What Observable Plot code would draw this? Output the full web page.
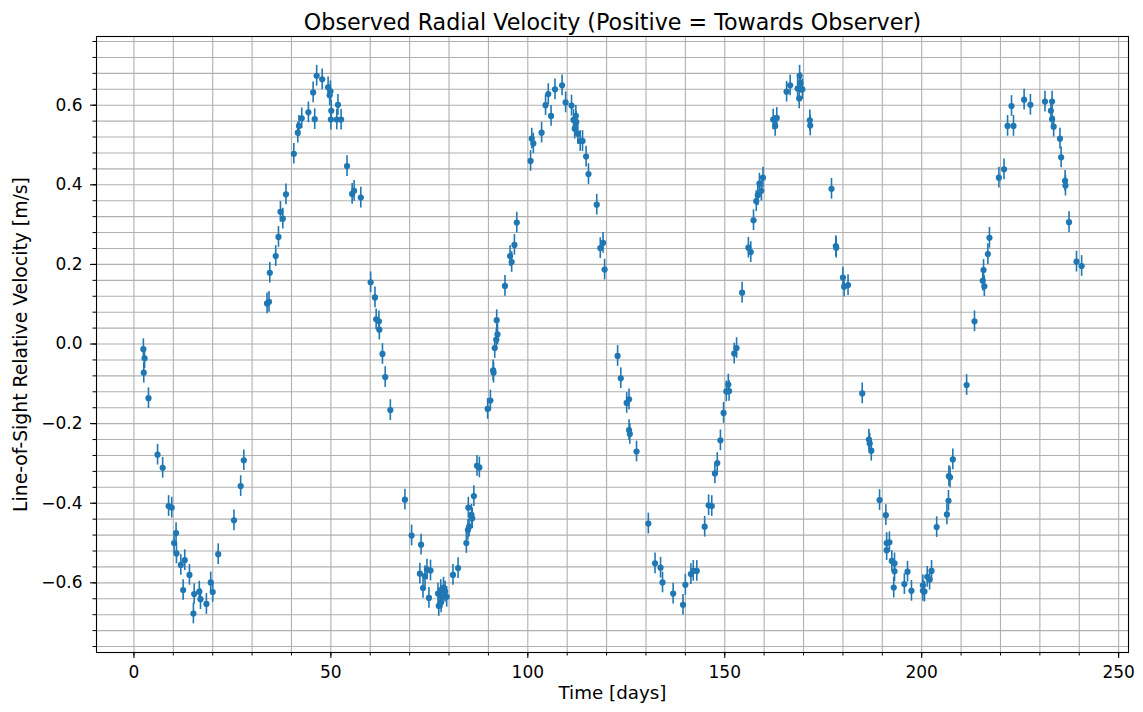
<!DOCTYPE html>
<html>
<head>
<meta charset="utf-8">
<script src="https://cdn.jsdelivr.net/npm/d3@7"></script>
<script src="https://cdn.jsdelivr.net/npm/@observablehq/plot@0.6"></script>
<style>
  body { margin: 0; background: white; }
</style>
</head>
<body>
<div id="chart"></div>
<script>
// Observation times [days]
const times = [
  2.4, 2.5, 2.7, 3.7, 6.0, 7.3, 8.8, 9.6, 10.2, 10.7, 10.8, 11.9, 12.5, 12.9, 14.1, 15.1, 15.3, 16.6, 16.9, 18.4,
  19.5, 20.0, 21.4, 25.4, 27.1, 27.9, 33.8, 34.3, 34.5, 36.0, 36.7, 37.2, 37.8, 38.6, 40.6, 41.6, 41.9, 42.6, 44.3, 45.5,
  45.9, 46.4, 47.8, 49.3, 49.7, 49.9, 50.0, 50.1, 51.5, 51.8, 52.6, 54.1, 55.4, 55.9, 57.6, 60.1, 61.2, 61.5, 62.2, 62.3,
  63.1, 63.8, 65.1, 68.8, 70.5, 72.6, 72.9, 73.4, 73.9, 74.4, 74.9, 75.3, 77.2, 77.4, 77.9, 78.0, 78.2, 78.6, 79.0, 79.4,
  81.0, 82.3, 84.4, 84.8, 84.9, 85.1, 85.7, 85.9, 86.3, 87.1, 87.7, 89.8, 90.5, 91.2, 91.3, 91.6, 92.0, 92.3, 92.1, 94.2,
  95.5, 95.9, 96.6, 97.2, 100.7, 101.0, 101.4, 103.5, 104.5, 105.2, 105.9, 106.9, 108.7, 109.6, 111.1, 111.6, 111.9, 112.2, 112.3, 112.7,
  113.3, 113.9, 114.8, 115.4, 117.5, 118.4, 119.1, 119.5, 122.8, 123.6, 125.1, 125.7, 125.7, 125.9, 127.6, 130.6, 132.3, 133.7, 134.2, 136.9,
  139.4, 140.0, 141.4, 142.0, 142.9, 144.9, 145.9, 146.7, 147.5, 148.1, 148.9, 149.7, 150.4, 150.9, 151.1, 152.4, 153.0, 154.4, 156.0, 156.6,
  157.3, 158.0, 158.4, 158.8, 159.3, 159.7, 162.3, 162.8, 163.2, 165.7, 166.6, 168.5, 168.9, 169.0, 169.2, 169.7, 171.6, 171.7, 177.1, 178.2,
  178.3, 180.0, 180.3, 181.3, 184.9, 186.6, 186.8, 187.2, 189.3, 190.9, 191.1, 191.1, 191.8, 192.4, 192.9, 193.1, 193.1, 195.6, 196.4, 197.4,
  200.3, 200.3, 200.7, 201.4, 202.0, 202.5, 203.8, 206.4, 206.8, 206.9, 207.2, 207.9, 211.4, 213.4, 215.5, 215.7, 215.9, 216.8, 217.2, 219.6,
  220.9, 221.8, 222.8, 223.3, 226.0, 227.6, 231.3, 232.8, 233.1, 233.1, 233.5, 235.1, 235.4, 236.4, 236.5, 237.4, 239.3, 240.6
];
// Line-of-sight relative velocity [m/s]
const velocities = [
  -0.013, -0.072, -0.036, -0.136, -0.278, -0.311, -0.407, -0.411, -0.500, -0.475, -0.526, -0.555, -0.618, -0.543, -0.580, -0.677, -0.628, -0.622, -0.641, -0.653,
  -0.599, -0.623, -0.528, -0.443, -0.357, -0.292, 0.102, 0.106, 0.179, 0.221, 0.269, 0.332, 0.315, 0.376, 0.478, 0.531, 0.548, 0.567, 0.582, 0.632,
  0.565, 0.674, 0.665, 0.645, 0.625, 0.635, 0.564, 0.586, 0.564, 0.601, 0.564, 0.447, 0.377, 0.385, 0.368, 0.155, 0.117, 0.062, 0.057, 0.036,
  -0.025, -0.083, -0.166, -0.391, -0.481, -0.577, -0.504, -0.613, -0.583, -0.567, -0.638, -0.569, -0.627, -0.658, -0.618, -0.649, -0.637, -0.612, -0.622, -0.635,
  -0.580, -0.563, -0.500, -0.467, -0.411, -0.459, -0.429, -0.438, -0.382, -0.306, -0.310, -0.163, -0.142, -0.066, -0.072, -0.010, 0.011, 0.024, 0.060, 0.146,
  0.221, 0.206, 0.249, 0.305, 0.460, 0.516, 0.504, 0.531, 0.600, 0.628, 0.573, 0.640, 0.650, 0.607, 0.599, 0.563, 0.541, 0.573, 0.558, 0.528,
  0.510, 0.510, 0.471, 0.427, 0.350, 0.241, 0.254, 0.187, -0.030, -0.086, -0.148, -0.139, -0.216, -0.226, -0.270, -0.451, -0.551, -0.562, -0.599, -0.627,
  -0.655, -0.605, -0.578, -0.570, -0.570, -0.459, -0.405, -0.407, -0.325, -0.299, -0.242, -0.173, -0.119, -0.102, -0.118, -0.024, -0.010, 0.129, 0.242, 0.231,
  0.311, 0.359, 0.374, 0.403, 0.385, 0.418, 0.564, 0.548, 0.568, 0.634, 0.650, 0.642, 0.617, 0.674, 0.656, 0.640, 0.562, 0.549, 0.390, 0.246,
  0.242, 0.167, 0.144, 0.148, -0.124, -0.240, -0.250, -0.268, -0.392, -0.430, -0.500, -0.518, -0.498, -0.545, -0.612, -0.551, -0.571, -0.603, -0.572, -0.620,
  -0.606, -0.620, -0.622, -0.585, -0.592, -0.570, -0.460, -0.428, -0.394, -0.332, -0.335, -0.290, -0.103, 0.057, 0.159, 0.186, 0.145, 0.226, 0.267, 0.418,
  0.439, 0.548, 0.598, 0.548, 0.614, 0.601, 0.609, 0.586, 0.609, 0.565, 0.546, 0.516, 0.469, 0.410, 0.398, 0.306, 0.207, 0.196
];
const errorBar = 0.026; // measurement uncertainty (±)

const xMajorTicks = [0, 50, 100, 150, 200, 250];
const xMinorTicks = d3.range(0, 251, 10);
const yMajorTicks = [-0.6, -0.4, -0.2, 0.0, 0.2, 0.4, 0.6];
const yMinorTicks = d3.range(-19, 20).map(k => +(k * 0.04).toFixed(2));

const titleText = "Observed Radial Velocity (Positive = Towards Observer)";
const xLabel = "Time [days]";
const yLabel = "Line-of-Sight Relative Velocity [m/s]";

const data = times.map((t, i) => ({t, v: velocities[i]}));
const blue = "#1f77b4";
const gridColor = "#b0b0b0";
const fmtY = d => d.toFixed(1).replace("-", "\u2212");

const chart = Plot.plot({
  width: 1143,
  height: 712,
  marginLeft: 96,
  marginRight: 15,
  marginTop: 36,
  marginBottom: 60,
  style: {fontFamily: "DejaVu Sans", fontSize: "17px", color: "black", background: "white"},
  x: {domain: [-9.5, 252.5]},
  y: {domain: [-0.775, 0.7726]},
  marks: [
    Plot.ruleX(xMinorTicks, {stroke: gridColor, strokeWidth: 1.1}),
    Plot.ruleY(yMinorTicks, {stroke: gridColor, strokeWidth: 1.1}),
    Plot.ruleX(data, {x: "t", y1: d => d.v - errorBar, y2: d => d.v + errorBar, stroke: blue, strokeWidth: 1.6}),
    Plot.dot(data, {x: "t", y: "v", r: 3.1, fill: blue, stroke: "none"}),
    Plot.frame({stroke: "black", strokeWidth: 1.1}),
    Plot.axisX({ticks: xMinorTicks, tickSize: 3.5, tickFormat: () => "", label: null, strokeWidth: 1}),
    Plot.axisX({ticks: xMajorTicks, tickSize: 6, tickPadding: 7, tickFormat: d => String(d), fontSize: 17, label: null, strokeWidth: 1.1}),
    Plot.axisY({ticks: yMinorTicks, tickSize: 3.5, tickFormat: () => "", label: null, strokeWidth: 1}),
    Plot.axisY({ticks: yMajorTicks, tickSize: 6, tickPadding: 8, tickFormat: fmtY, fontSize: 17, label: null, strokeWidth: 1.1}),
    Plot.text([titleText], {frameAnchor: "top", dy: -22, fontSize: 22.2, fill: "black", textAnchor: "middle"}),
    Plot.text([xLabel], {frameAnchor: "bottom", dy: 46, fontSize: 18.3, fill: "black", textAnchor: "middle"}),
    Plot.text([yLabel], {frameAnchor: "left", dx: -76, rotate: -90, fontSize: 18.8, fill: "black", textAnchor: "middle"})
  ]
});
document.getElementById("chart").appendChild(chart);
</script>
</body>
</html>
